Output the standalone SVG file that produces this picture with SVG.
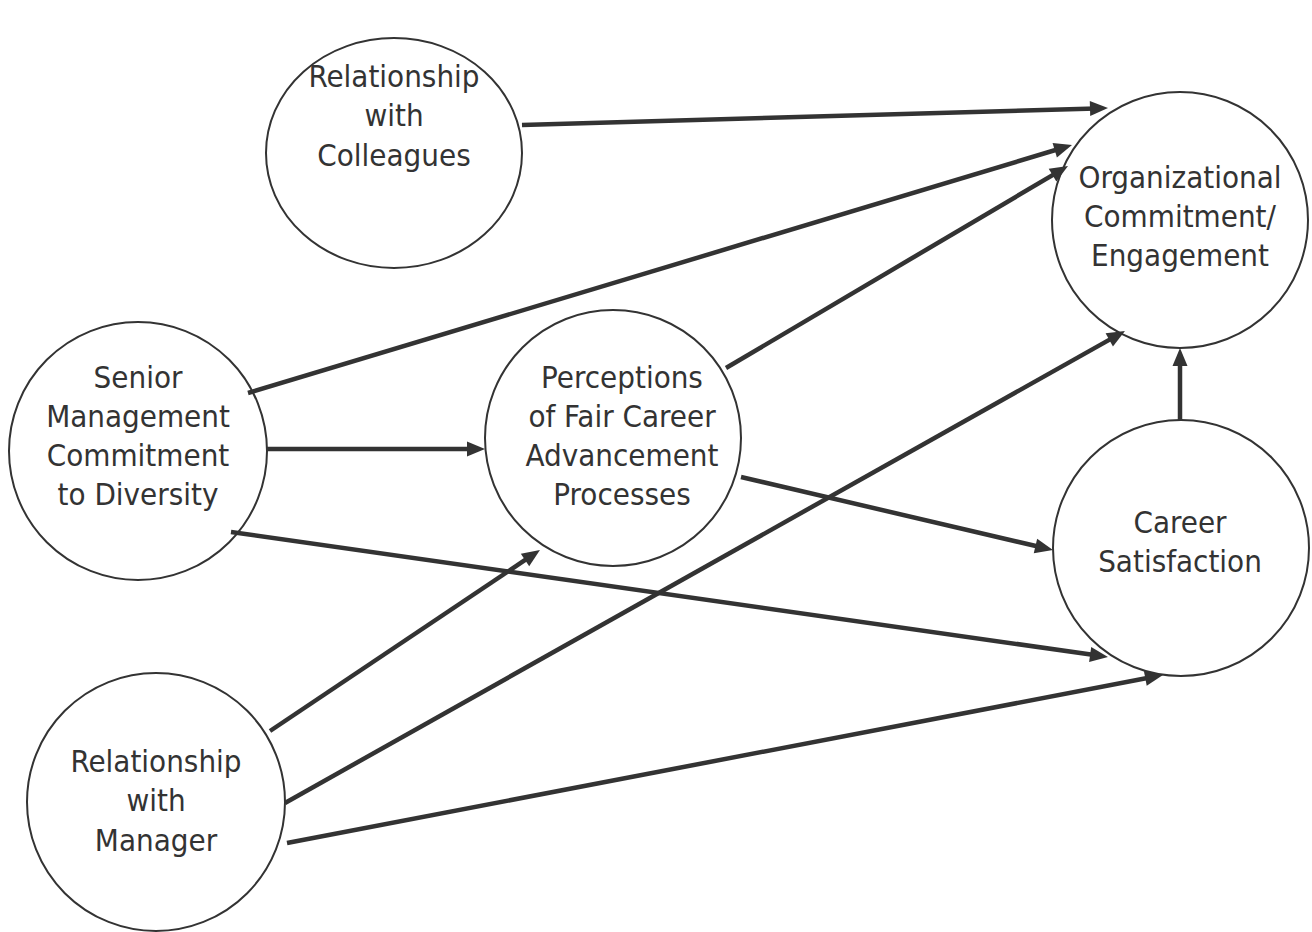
<svg xmlns="http://www.w3.org/2000/svg" width="1312" height="932" viewBox="0 0 1312 932">
<style>
.node{fill:#fff;stroke:#333;stroke-width:2}
.lbl{font-family:'DejaVu Sans Condensed','DejaVu Sans',sans-serif;font-stretch:condensed;font-size:31px;fill:#333;text-anchor:middle}
.edge{stroke:#333;stroke-width:4.5;fill:none;marker-end:url(#ah)}
</style>
<defs>
<marker id="ah" markerUnits="userSpaceOnUse" markerWidth="20" markerHeight="16" refX="6" refY="7.5" orient="auto" overflow="visible">
<path d="M0,0 L18,7.5 L0,15 Z" fill="#333"/>
</marker>
</defs>
<rect width="1312" height="932" fill="#fff"/>
<g id="colleagues">
<ellipse class="node" cx="394" cy="153" rx="128" ry="115"/>
<text class="lbl" x="394" y="87">Relationship</text>
<text class="lbl" x="394" y="126">with</text>
<text class="lbl" x="394" y="166">Colleagues</text>
</g>
<g id="org">
<circle class="node" cx="1180" cy="220" r="128"/>
<text class="lbl" x="1180" y="188">Organizational</text>
<text class="lbl" x="1180" y="227">Commitment/</text>
<text class="lbl" x="1180" y="266">Engagement</text>
</g>
<g id="senior">
<circle class="node" cx="138" cy="451" r="129"/>
<text class="lbl" x="138" y="388">Senior</text>
<text class="lbl" x="138" y="427">Management</text>
<text class="lbl" x="138" y="466">Commitment</text>
<text class="lbl" x="138" y="505">to Diversity</text>
</g>
<g id="perceptions">
<circle class="node" cx="613" cy="438" r="128"/>
<text class="lbl" x="622" y="388">Perceptions</text>
<text class="lbl" x="622" y="427">of Fair Career</text>
<text class="lbl" x="622" y="466">Advancement</text>
<text class="lbl" x="622" y="505">Processes</text>
</g>
<g id="career">
<circle class="node" cx="1181" cy="548" r="128"/>
<text class="lbl" x="1180" y="533">Career</text>
<text class="lbl" x="1180" y="572">Satisfaction</text>
</g>
<g id="manager">
<circle class="node" cx="156" cy="802" r="129"/>
<text class="lbl" x="156" y="772">Relationship</text>
<text class="lbl" x="156" y="811">with</text>
<text class="lbl" x="156" y="851">Manager</text>
</g>
<g id="connectors">
<path class="edge" d="M522,125 L1096,108.4"/>
<path class="edge" d="M248,393 L1060.5,148.5"/>
<path class="edge" d="M726,368 L1057.7,172.1"/>
<path class="edge" d="M285,803 L1114.5,336.9"/>
<path class="edge" d="M1180,420 L1180,360"/>
<path class="edge" d="M267,449 L473,449"/>
<path class="edge" d="M741,477 L1041.3,547.3"/>
<path class="edge" d="M231,532 L1096.1,655.3"/>
<path class="edge" d="M270,731 L530,556.7"/>
<path class="edge" d="M287,843 L1151.2,677.3"/>
</g>
</svg>
